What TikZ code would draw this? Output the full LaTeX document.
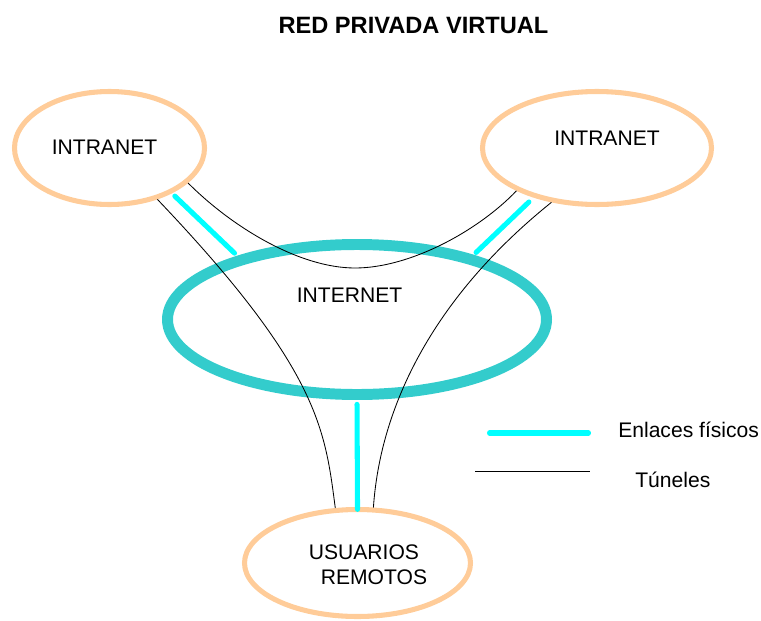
\documentclass[tikz,border=0pt]{standalone}
\usepackage{fontspec}
\setmainfont{Liberation Sans}
\usepackage{xcolor}
\usepackage{tikz}
\usetikzlibrary{shapes.geometric}
\definecolor{durazno}{HTML}{FFCC99}
\definecolor{turquesa}{HTML}{33CCCC}
\definecolor{cian}{HTML}{00FFFF}

\begin{document}
\begin{tikzpicture}[
  lan/.style={draw=durazno, ellipse, line width=3.6pt, inner sep=0pt},
  wan/.style={draw=turquesa, ellipse, line width=7.8pt, inner sep=0pt, minimum width=9.475cm, minimum height=3.75cm},
  txt/.style={font=\fontsize{15}{17.8}\selectfont, inner sep=0pt},
  fis/.style={cian, line width=3.6pt, line cap=round},
  tun/.style={black, line width=0.6pt}
]
  \useasboundingbox (0,0) rectangle (19.025,-15.5);

  \node[txt, font=\fontsize{16.8}{20}\selectfont\bfseries] (titulo) at (10.3375,-0.625) {RED PRIVADA VIRTUAL};

  % redes
  \node[lan, minimum width=4.75cm, minimum height=2.825cm] (intraA) at (2.7375,-3.7) {};
  \node[lan, minimum width=5.725cm, minimum height=2.825cm] (intraB) at (14.925,-3.7) {};
  \node[wan] (inet) at (8.925,-7.9875) {};
  \node[lan, minimum width=5.65cm, minimum height=2.675cm] (usr) at (8.9375,-14.075) {};

  \node[txt] (tA) at (2.6125,-3.6875) {INTRANET};
  \node[txt] (tB) at (15.175,-3.4625) {INTRANET};
  \node[txt] (tI) at (8.7375,-7.3875) {INTERNET};
  \node[txt, align=left] (tU) at (9.2,-14.125) {USUARIOS\\\hspace*{8.5pt}REMOTOS};

  % enlaces fisicos
  \draw[fis, shorten <=0.1cm, shorten >=0.1cm] (intraA.-36) -- (inet.152);
  \draw[fis, shorten <=0.16cm, shorten >=0.09cm] (intraB.218) -- (inet.29);
  \draw[fis, shorten <=0.11cm, shorten >=-0.06cm] (inet.south) -- (usr.north);

  % tuneles
  \draw[tun] (intraA.-24) .. controls (5.825,-5.7) and (7.5,-6.7) .. (8.875,-6.7)
                          .. controls (10.25,-6.7) and (11.95,-5.775) .. (intraB.208);
  \draw[tun] (intraA.-47) .. controls (8.0,-9.25) and (8.125,-10.75) .. (usr.112);
  \draw[tun] (intraB.230) .. controls (10.75,-7.5) and (9.5,-10.25) .. (usr.74);

  % leyenda
  \coordinate (fisA) at (12.2375,-10.825);
  \coordinate (fisB) at (14.7125,-10.825);
  \coordinate (tunA) at (11.875,-11.775);
  \coordinate (tunB) at (14.75,-11.775);
  \draw[fis] (fisA) -- (fisB);
  \draw[tun] (tunA) -- (tunB);
  \node[txt, anchor=west] (lfis) at (15.45,-10.75) {Enlaces físicos};
  \node[txt, anchor=west] (ltun) at (15.875,-12.0) {Túneles};
\end{tikzpicture}
\end{document}
